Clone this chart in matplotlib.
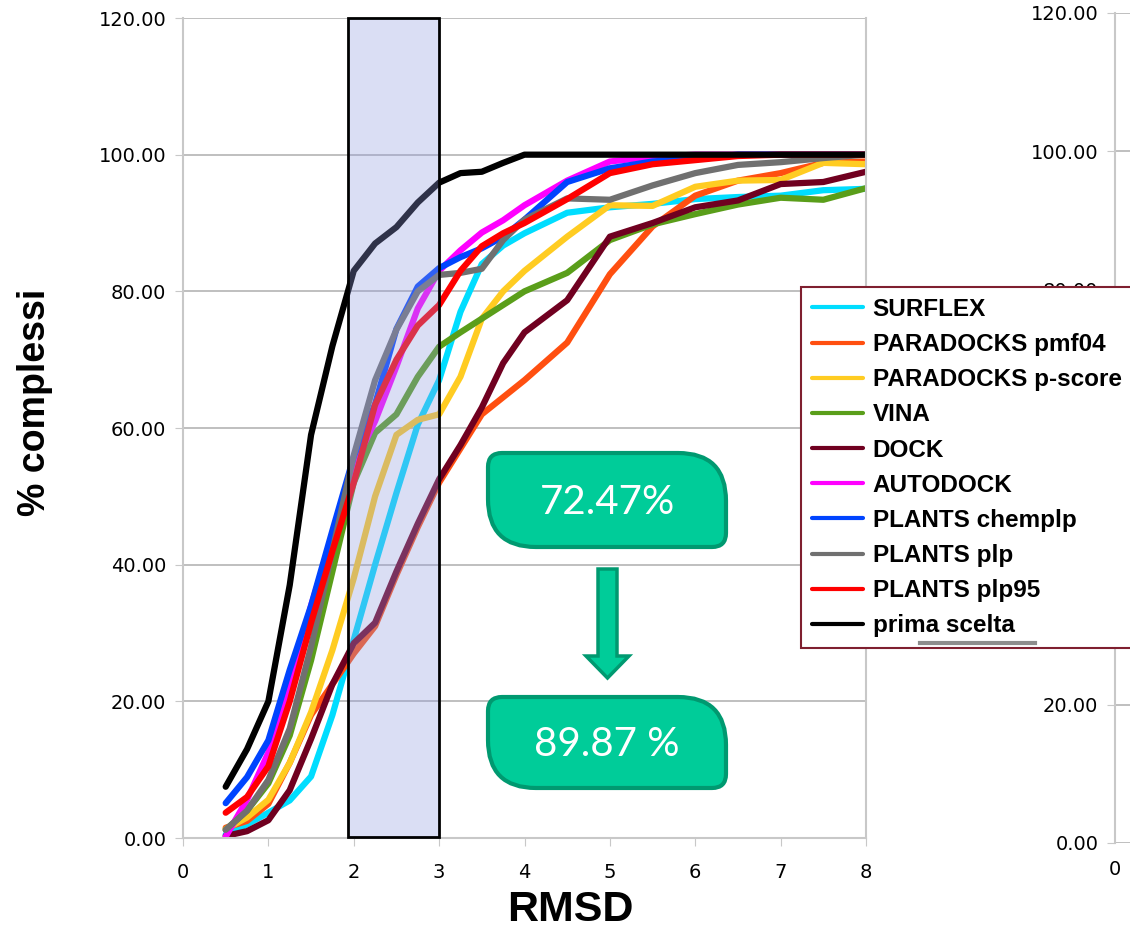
import matplotlib
matplotlib.use('Agg')
import matplotlib.pyplot as plt
from matplotlib.path import Path
from matplotlib.patches import PathPatch, Rectangle, Polygon
from matplotlib.lines import Line2D

# Data (RMSD vs % complessi)
rmsd = [0.5, 0.75, 1.0, 1.25, 1.5, 1.75, 2.0, 2.25, 2.5, 2.75, 3.0, 3.25, 3.5, 3.75, 4.0,
        4.5, 5.0, 5.5, 6.0, 6.5, 7.0, 7.5, 8.0]
surflex = [0.5, 2, 3.7, 5.5, 9, 18, 29, 40, 50.5, 60.5, 67, 77, 84, 86.7, 88.5,
           91.5, 92.3, 92.8, 93.5, 93.8, 94, 94.8, 95]
pmf04 = [1.5, 2.5, 5, 11, 18, 22.5, 27, 31, 38.5, 45.5, 52, 57, 62, 64.5, 67,
         72.5, 82.5, 89.5, 94, 96.2, 97.3, 98.8, 99]
pscore = [1.3, 3, 5.6, 11, 18.4, 27.5, 38, 50, 59, 61.2, 62, 67.5, 76, 80, 83,
          88, 92.6, 92.5, 95.3, 96.2, 96.3, 98.8, 98.6]
vina = [1.2, 4, 8, 15, 26, 39, 52, 59.3, 62, 67.5, 71.9, 74, 76, 78, 80,
        82.7, 87.5, 89.8, 91.3, 92.7, 93.7, 93.4, 95.1]
dock = [0.3, 1, 2.6, 7, 14.5, 22.5, 28.5, 31.5, 39, 46, 52.5, 57.5, 63, 69.5, 74,
        78.7, 88, 90, 92.3, 93.3, 95.7, 96, 97.5]
autodock = [0.2, 5.6, 12.5, 22, 34, 44, 54.5, 61, 69, 77.5, 83, 86, 88.6, 90.4, 92.6,
            96.2, 99, 99.7, 100, 100, 100, 100, 100]
chemplp = [5.1, 8.9, 14.3, 24.6, 34, 45, 55.8, 63.5, 74.5, 80.7, 83.4, 85, 86.3, 88, 90.5,
           96, 98, 99, 99.5, 100, 100, 100, 100]
plp = [1.2, 4, 8.5, 16, 28, 42, 56, 67, 74.4, 80, 82.4, 82.7, 83.3, 87.5, 90.5,
       93.6, 93.4, 95.5, 97.3, 98.5, 98.9, 99.5, 100]
plp95 = [3.7, 6, 10.5, 20, 31.5, 42, 52, 63.4, 70, 75, 78, 83, 86.6, 88.5, 90,
         93.5, 97.3, 98.6, 99.2, 99.8, 100, 100, 100]
prima = [7.5, 13, 20, 37, 59, 72, 83, 87, 89.4, 93, 95.9, 97.3, 97.5, 98.8, 100,
         100, 100, 100, 100, 100, 100, 100, 100]

series = [surflex, pmf04, pscore, vina, dock, autodock, chemplp, plp, plp95, prima]
labels = ['SURFLEX', 'PARADOCKS pmf04', 'PARADOCKS p-score', 'VINA', 'DOCK', 'AUTODOCK',
          'PLANTS chemplp', 'PLANTS plp', 'PLANTS plp95', 'prima scelta']
colors = ['#00DDFF', '#FF4F10', '#FFCC22', '#5A9E1A', '#700020', '#FF00FF',
          '#0044FF', '#707070', '#FF0000', '#000000']

W, H = 1130, 936
fig = plt.figure(figsize=(W / 100, H / 100), dpi=100)

def fx(px):
    return px / W

def fy(py):
    return 1 - py / H

tick_font = dict(family='DejaVu Sans', size=14)
grid_c = '#B4B4B4'

# partially visible second chart on the right
ax2 = fig.add_axes([fx(1115), fy(843), 0.3, fy(13) - fy(843)])
ax2.set_zorder(0)
ax2.set_xlim(0, 8)
ax2.set_ylim(0, 120)
ax2.set_yticks(range(0, 121, 20))
ax2.set_yticklabels([f'{v:.2f}' for v in range(0, 121, 20)], **tick_font)
ax2.set_xticks([0])
ax2.set_xticklabels(['0'], **tick_font)
ax2.grid(axis='y', color=grid_c, lw=1.2)
for s in ['top', 'right', 'bottom']:
    ax2.spines[s].set_visible(False)
ax2.spines['left'].set_color('#C8C8C8')
ax2.spines['left'].set_linewidth(1.5)
ax2.tick_params(axis='y', length=6, color='#C8C8C8', pad=6)
ax2.tick_params(axis='x', length=0, pad=12)

# main chart
ax = fig.add_axes([fx(183), fy(838), fx(866) - fx(183), fy(18) - fy(838)])
ax.set_zorder(1)
for vals, lab, c in zip(series, labels, colors):
    ax.plot(rmsd, vals, color=c, lw=4.5, label=lab, solid_capstyle='round',
            solid_joinstyle='round')

ax.set_xlim(0, 8)
ax.set_ylim(0, 120)
ax.set_xticks(range(0, 9))
ax.set_xticklabels([str(v) for v in range(0, 9)], **tick_font)
ax.set_yticks(range(0, 121, 20))
ax.set_yticklabels([f'{v:.2f}' for v in range(0, 121, 20)], **tick_font)
ax.grid(axis='y', color=grid_c, lw=1.2)
ax.set_axisbelow(True)
ax.spines['top'].set_visible(False)
for s in ['left', 'right', 'bottom']:
    ax.spines[s].set_color('#C8C8C8')
    ax.spines[s].set_linewidth(1.5)
ax.tick_params(axis='both', length=6, color='#C8C8C8')
ax.tick_params(axis='y', pad=6)
ax.tick_params(axis='x', pad=12)

# highlighted RMSD window
ax.add_patch(Rectangle((1.93, 0.1), 1.07, 119.9, facecolor=(145 / 255, 155 / 255, 224 / 255, 0.33),
                       edgecolor='black', lw=2, zorder=5, clip_on=False))

fig.text(fx(35), fy(402), '% complessi', rotation=90, ha='center', va='center',
         family='Liberation Sans', weight='bold', size=27)
fig.text(fx(570), fy(910), 'RMSD', ha='center', va='center',
         family='Liberation Sans', weight='bold', size=31)

leg = ax.legend(loc='upper left', bbox_to_anchor=(fx(801), fy(287)), bbox_transform=fig.transFigure,
                prop=dict(family='Liberation Sans', weight='bold', size=17.5),
                handlelength=2.1, handletextpad=0.4, labelspacing=0.5, borderpad=0.45,
                borderaxespad=0, fancybox=False, framealpha=1)
leg.get_frame().set_edgecolor('#7F1F2F')
leg.get_frame().set_linewidth(1.5)
for ln in leg.get_lines():
    ln.set_linewidth(3)
fig.add_artist(Line2D([fx(920), fx(1035)], [fy(643), fy(643)], color='#8C8C8C', lw=3, zorder=10))

# callout boxes and arrow
fill_c, edge_c = '#00CC99', '#009970'

def callout(x0, y0, x1, y1, r, R):
    pts = [(x0 + r, y0), (x1 - R, y0), (x1, y0), (x1, y0 + R), (x1, y1 - r), (x1, y1), (x1 - r, y1),
           (x0 + R, y1), (x0, y1), (x0, y1 - R), (x0, y0 + r), (x0, y0), (x0 + r, y0), (x0 + r, y0)]
    codes = [Path.MOVETO, Path.LINETO, Path.CURVE3, Path.CURVE3, Path.LINETO, Path.CURVE3, Path.CURVE3,
             Path.LINETO, Path.CURVE3, Path.CURVE3, Path.LINETO, Path.CURVE3, Path.CURVE3, Path.CLOSEPOLY]
    verts = [(fx(px), fy(py)) for px, py in pts]
    fig.add_artist(PathPatch(Path(verts, codes), facecolor=fill_c, edgecolor=edge_c, lw=3,
                             transform=fig.transFigure, zorder=6))

callout(488, 453, 726, 547, 14, 48)
callout(488, 697, 726, 788, 14, 48)
fig.text(fx(607), fy(502), '72.47%', ha='center', va='center', color='white', family='Lato', size=29, zorder=7)
fig.text(fx(607), fy(744), '89.87 %', ha='center', va='center', color='white', family='Lato', size=29, zorder=7)

arrow_pts = [(598, 569), (617, 569), (617, 656), (629, 656), (607.5, 678), (586, 656), (598, 656)]
fig.add_artist(Polygon([(fx(px), fy(py)) for px, py in arrow_pts], closed=True, facecolor=fill_c,
                       edgecolor=edge_c, lw=2.5, transform=fig.transFigure, zorder=6))

fig.savefig('out.png', dpi=100)
